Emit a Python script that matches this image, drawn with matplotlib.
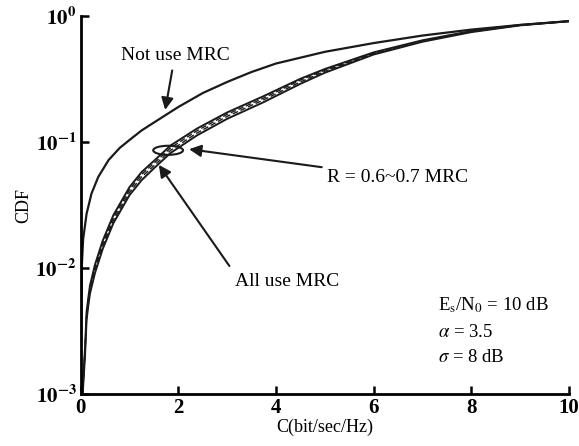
import matplotlib.pyplot as plt
from matplotlib.patches import Ellipse

plt.rcParams['font.family'] = ['Liberation Serif', 'DejaVu Serif']
plt.rcParams['mathtext.fontset'] = 'stix'

# capacity axis (bit/sec/Hz)
not_use_x = [0, 0.01, 0.02, 0.05, 0.12, 0.22, 0.36, 0.57, 0.8, 1.0, 1.25, 1.5, 2.0, 2.5, 3.0, 3.5, 4.0, 5.0, 6.0, 7.0, 8.0, 9.0, 10.0]
not_use_y = [0.001, 0.004, 0.01, 0.017, 0.027, 0.039, 0.053, 0.072, 0.09, 0.104, 0.124, 0.143, 0.19, 0.245, 0.30, 0.36, 0.42, 0.52, 0.61, 0.70, 0.78, 0.85, 0.91]

mrc_x = [0.04, 0.05, 0.09, 0.12, 0.16, 0.19, 0.29, 0.45, 0.67, 1.0, 1.25, 1.5, 1.84, 2.38, 3.0, 3.73, 4.5, 5.0, 6.0, 7.0, 8.0, 9.0, 10.0]
all_y = [0.001, 0.00115, 0.0021, 0.0039, 0.0052, 0.0063, 0.0091, 0.0142, 0.0228, 0.038, 0.050, 0.062, 0.082,
         0.113, 0.153, 0.206, 0.29, 0.355, 0.495, 0.625, 0.745, 0.843, 0.91]
r07_y = [0.001, 0.0012, 0.0022, 0.0041, 0.0055, 0.0066, 0.0096, 0.015, 0.024, 0.040, 0.053, 0.065, 0.086,
         0.118, 0.160, 0.215, 0.30, 0.365, 0.50, 0.63, 0.75, 0.845, 0.91]
r065_y = [0.001, 0.00126, 0.0023, 0.0043, 0.0058, 0.0069, 0.0101, 0.0158, 0.0252, 0.042, 0.0555, 0.068, 0.090,
          0.123, 0.166, 0.222, 0.31, 0.372, 0.507, 0.635, 0.755, 0.847, 0.91]
r06_y = [0.001, 0.00132, 0.0024, 0.0045, 0.0060, 0.0073, 0.0106, 0.0165, 0.0264, 0.044, 0.058, 0.071, 0.094,
         0.128, 0.172, 0.23, 0.318, 0.38, 0.515, 0.642, 0.76, 0.85, 0.91]

x_ticks = [0, 2, 4, 6, 8, 10]
y_ticks = [1e-3, 1e-2, 1e-1, 1e0]
y_tick_labels = [r'$\mathbf{10^{-3}}$', r'$\mathbf{10^{-2}}$', r'$\mathbf{10^{-1}}$', r'$\mathbf{10^{0}}$']

fig = plt.figure(figsize=(5.79, 4.46), dpi=100)
ax = fig.add_axes([0.1394, 0.1159, 0.8433, 0.8482])

ax.semilogy(not_use_x, not_use_y, color='#1a1a1a', lw=1.6)
ax.semilogy(mrc_x, r06_y, color='#1a1a1a', lw=1.4)
ax.semilogy(mrc_x, r065_y, color='#1a1a1a', lw=1.0, ls=(0, (4, 2)))
ax.semilogy(mrc_x, r07_y, color='#1a1a1a', lw=1.0, ls=(0, (4, 2)))
ax.semilogy(mrc_x, all_y, color='#1a1a1a', lw=1.4)

ax.set_xlim(0, 10)
ax.set_ylim(1e-3, 1e0)
ax.set_xticks(x_ticks)
ax.set_xticklabels([str(t) for t in x_ticks], fontsize=15, fontweight='bold')
ax.set_yticks(y_ticks)
ax.set_yticklabels(y_tick_labels, fontsize=15)
ax.minorticks_off()
ax.tick_params(direction='in', length=6, width=1.8, pad=3)
for side in ['top', 'right']:
    ax.spines[side].set_visible(False)
for side in ['left', 'bottom']:
    ax.spines[side].set_linewidth(2)

ax.set_xlabel('C(bit/sec/Hz)', fontsize=13, labelpad=0)
ax.set_ylabel('CDF', fontsize=13, labelpad=2)

# annotations
ax.annotate('Not use MRC', xy=(1.73, 0.18), xytext=(1.93, 0.49),
            ha='center', va='center', fontsize=14,
            arrowprops=dict(arrowstyle='-|>', color='#1a1a1a', lw=1.5, mutation_scale=18, shrinkA=3, shrinkB=0))

ell = Ellipse((0.179, 0.645), 0.061, 0.024, transform=ax.transAxes,
              fill=False, edgecolor='#1a1a1a', lw=1.5)
ax.add_patch(ell)
ax.annotate('R = 0.6~0.7 MRC', xy=(0.222, 0.648), xytext=(0.505, 0.573),
            xycoords='axes fraction', textcoords='axes fraction',
            ha='left', va='center', fontsize=14,
            arrowprops=dict(arrowstyle='-|>', color='#1a1a1a', lw=1.5, mutation_scale=18, shrinkA=2, shrinkB=0))

ax.annotate('All use MRC', xy=(1.6, 0.066), xytext=(3.15, 0.0078),
            ha='left', va='center', fontsize=14,
            arrowprops=dict(arrowstyle='-|>', color='#1a1a1a', lw=1.5, mutation_scale=18, shrinkA=4, shrinkB=0,
                            relpos=(0, 1)))

ax.text(0.731, 0.235, r'E$_\mathrm{s}$/N$_0$ = 10 dB', transform=ax.transAxes, fontsize=13.5, va='center')
ax.text(0.731, 0.164, r'$\alpha$ = 3.5', transform=ax.transAxes, fontsize=13.5, va='center')
ax.text(0.731, 0.098, r'$\sigma$ = 8 dB', transform=ax.transAxes, fontsize=13.5, va='center')

fig.savefig('out.png', dpi=100)
